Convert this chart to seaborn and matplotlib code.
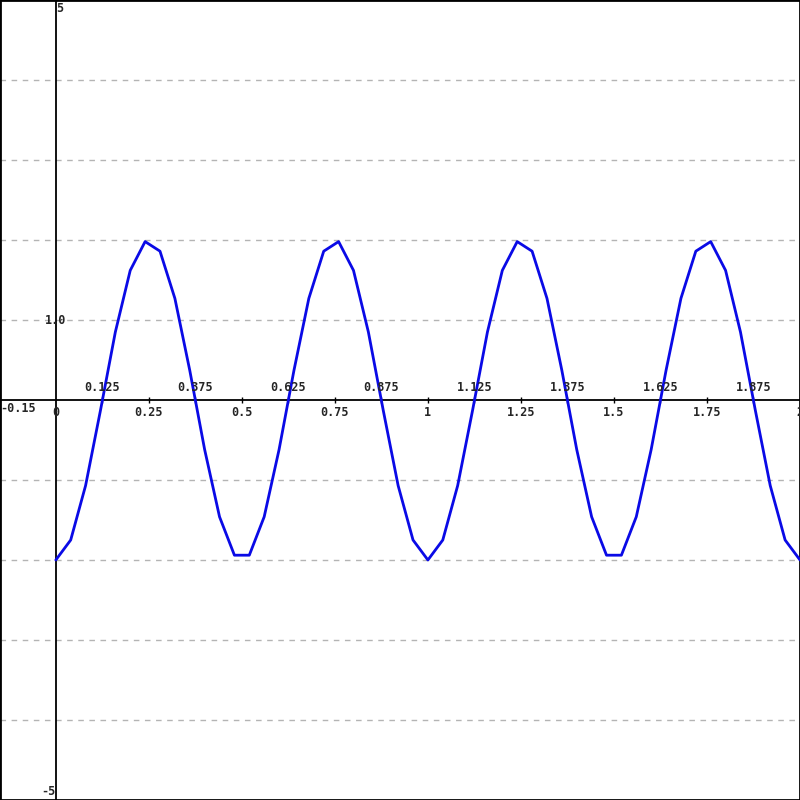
import numpy as np
import pandas as pd
import matplotlib
matplotlib.use("Agg")
import matplotlib.pyplot as plt
import seaborn as sns

# samples, x step 0.04
x_vals = [round(0.04 * i, 2) for i in range(51)]
y_vals = [-2.00, -1.75, -1.07, -0.13, 0.85, 1.62, 1.98, 1.86, 1.27, 0.37,
          -0.62, -1.46, -1.94, -1.94, -1.46, -0.62, 0.37, 1.27, 1.86, 1.98,
          1.62, 0.85, -0.13, -1.07, -1.75, -2.00,
          -1.75, -1.07, -0.13, 0.85, 1.62, 1.98, 1.86, 1.27, 0.37,
          -0.62, -1.46, -1.94, -1.94, -1.46, -0.62, 0.37, 1.27, 1.86, 1.98,
          1.62, 0.85, -0.13, -1.07, -1.75, -2.00]

x_ticks_low = [0.25, 0.5, 0.75, 1, 1.25, 1.5, 1.75]
x_ticks_high = [0.125, 0.375, 0.625, 0.875, 1.125, 1.375, 1.625, 1.875]
grid_y = [-4, -3, -2, -1, 1, 2, 3, 4]

df = pd.DataFrame({"x": x_vals, "y": y_vals})

sns.set_style("white")
plt.rcParams["font.family"] = ["DejaVu Sans Mono"]

fig = plt.figure(figsize=(8, 8), dpi=100)
ax = fig.add_axes([0, 0, 1, 1])
ax.set_xlim(-0.15, 2)
ax.set_ylim(-5, 5)

for g in grid_y:
    ax.axhline(g, color="#b4b4b4", lw=1, ls=(0, (4, 4)), zorder=1)

ax.axhline(0, color="black", lw=1.3, zorder=2)
ax.axvline(0, color="black", lw=1.3, zorder=2)
ax.vlines(x_ticks_low + x_ticks_high, -0.04, 0.04, color="black", lw=1, zorder=2)

sns.lineplot(data=df, x="x", y="y", ax=ax, color="#0a0ae6", lw=2, zorder=3)

fs = 8.5
fw = "bold"
for t in x_ticks_low:
    ax.text(t, -0.07, f"{t:g}", ha="center", va="top", fontsize=fs, fontweight=fw)
for t in x_ticks_high:
    ax.text(t, 0.07, f"{t:g}", ha="center", va="bottom", fontsize=fs, fontweight=fw)
ax.text(0, -0.07, "0", ha="center", va="top", fontsize=fs, fontweight=fw)
ax.text(2, -0.07, "2", ha="center", va="top", fontsize=fs, fontweight=fw)
ax.text(-0.15, -0.03, "-0.15", ha="left", va="top", fontsize=fs, fontweight=fw)
ax.text(0.002, 4.98, "5", ha="left", va="top", fontsize=fs, fontweight=fw)
ax.text(-0.002, -4.98, "-5", ha="right", va="bottom", fontsize=fs, fontweight=fw)
ax.text(0, 1, "1.0", ha="center", va="center", fontsize=fs, fontweight=fw, zorder=4)

ax.set_xticks([])
ax.set_yticks([])
ax.set_xlabel("")
ax.set_ylabel("")
for s in ax.spines.values():
    s.set_visible(True)
    s.set_color("black")
    s.set_linewidth(2)

fig.savefig("out.png", dpi=100)
